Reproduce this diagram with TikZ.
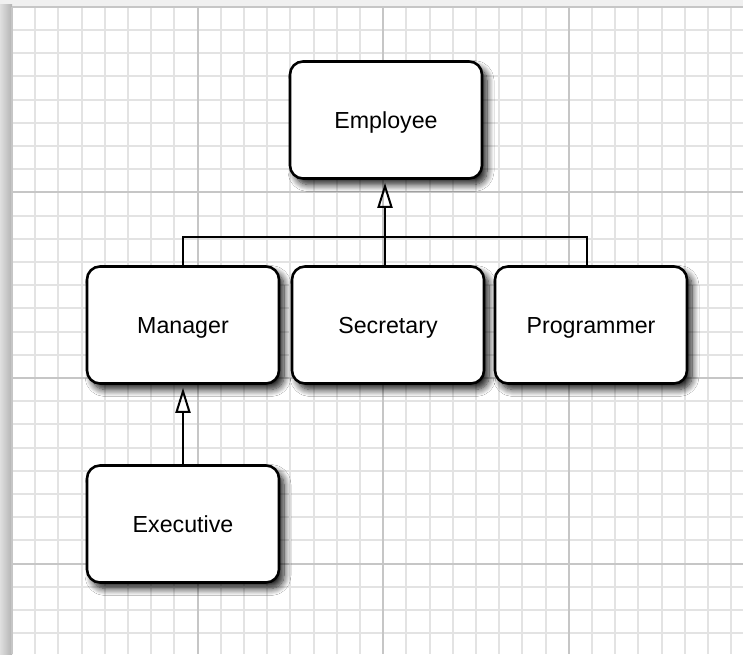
\documentclass[tikz,border=0pt]{standalone}
\usepackage{fontspec}
\setmainfont{Liberation Sans}
\usetikzlibrary{arrows.meta,shadows.blur}

\tikzset{
  classbox/.style={draw, line width=1.3pt, rounded corners=6.5pt, fill=white,
    minimum width=96pt, minimum height=58.5pt, text height=9pt, text depth=0.2pt,
    font=\fontsize{11.6}{14}\selectfont,
    blur shadow={shadow xshift=2.5pt, shadow yshift=-3pt, shadow blur radius=3.5pt,
      shadow blur steps=10, shadow opacity=90}},
  inherit/.style={line width=1pt, shorten >=1.5pt, -{Triangle[open, length=12.5pt, width=7.5pt, line width=1pt]}},
  connector/.style={line width=1pt},
  finegrid/.style={line width=1pt, gray!22},
  majorgrid/.style={line width=1pt, gray!45},
}

\begin{document}
\begin{tikzpicture}[x=0.5pt, y=-0.5pt]
\useasboundingbox (0,0) rectangle (743,654);

% paper and its shadow
\fill[gray!12] (0,0) rectangle (743,654);
\shade[left color=gray!25, right color=gray!60] (0,4) rectangle (12,654);
\fill[white] (12,6.7) rectangle (743,654);

% grid
\foreach \i in {0,...,31} {
  \draw[finegrid] ({12+23.2*\i},6.7) -- ({12+23.2*\i},654);
}
\foreach \j in {0,...,28} {
  \draw[finegrid] (12,{6.7+23.2*\j}) -- (743,{6.7+23.2*\j});
}
\foreach \i in {0,1,2,3} {
  \draw[majorgrid] ({12+185.6*\i},6.7) -- ({12+185.6*\i},654);
}
\foreach \j in {0,1,2,3} {
  \draw[majorgrid] (12,{6.7+185.6*\j}) -- (743,{6.7+185.6*\j});
}

% classes
\node[classbox] (employee) at (386,120) {Employee};
\node[classbox] (manager) at (183,325) {Manager};
\node[classbox] (secretary) at (388,325) {Secretary};
\node[classbox] (programmer) at (591,325) {Programmer};
\node[classbox] (executive) at (183,524) {Executive};

% inheritance
\coordinate (bar) at (385,237);
\draw[connector] (manager.north) |- (bar) -| ([xshift=-2pt]programmer.north);
\draw[inherit] ([xshift=-1.5pt]secretary.north) -- ([xshift=-1.5pt]secretary.north |- employee.south);
\draw[inherit] (executive.north) -- (manager.south);
\end{tikzpicture}
\end{document}
